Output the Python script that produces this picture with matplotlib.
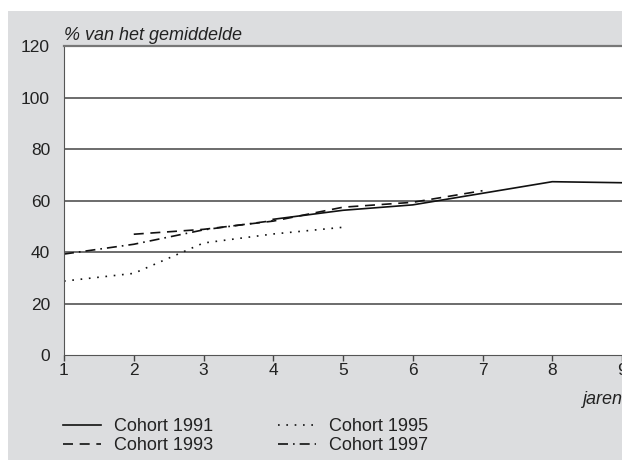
import matplotlib
matplotlib.use("Agg")
import matplotlib.pyplot as plt
from matplotlib.patches import Rectangle

plt.rcParams['font.family'] = ['Liberation Sans', 'DejaVu Sans']

# data
years_1991 = [4, 5, 6, 7, 8, 9]
vals_1991 = [52.7, 56.2, 58.3, 62.8, 67.3, 66.9]

years_1993 = [2, 3, 4, 5, 6, 7]
vals_1993 = [46.9, 48.8, 52.0, 57.4, 59.3, 63.8]

years_1995 = [1, 2, 3, 4, 5]
vals_1995 = [28.7, 31.7, 43.5, 47.0, 49.6]

years_1997 = [1, 2, 3, 4]
vals_1997 = [39.2, 43.0, 48.6, 52.2]

x_ticks = [1, 2, 3, 4, 5, 6, 7, 8, 9]
y_ticks = [0, 20, 40, 60, 80, 100, 120]

fig = plt.figure(figsize=(6.22, 4.62), dpi=100)
fig.patch.set_facecolor("white")

# grey panel behind the chart
fig.patches.append(Rectangle((8 / 622, 2 / 462), 1 - 8 / 622, (460 - 11) / 462,
                             transform=fig.transFigure, facecolor="#dcdddf",
                             edgecolor="none", zorder=-5))

ax = fig.add_axes([64 / 622, 1 - 355 / 462, 1 - 64 / 622, (355 - 46) / 462])
ax.set_facecolor("white")
ax.set_zorder(1)

lw = 1.2
ax.plot(years_1991, vals_1991, color="#111111", lw=lw, linestyle="-", label="Cohort 1991")
ax.plot(years_1993, vals_1993, color="#111111", lw=lw, linestyle=(0, (6, 4)), label="Cohort 1993")
ax.plot(years_1995, vals_1995, color="#111111", lw=lw, linestyle=(0, (1, 4)), label="Cohort 1995")
ax.plot(years_1997, vals_1997, color="#111111", lw=lw, linestyle=(0, (6, 3, 1, 3)), label="Cohort 1997")

ax.set_xlim(1, 9)
ax.set_ylim(0, 120)
ax.set_xticks(x_ticks)
ax.set_yticks(y_ticks)
ax.tick_params(axis="x", direction="out", length=4, width=1, color="#444444",
               labelsize=12.5, pad=2)
ax.tick_params(axis="y", length=0, labelsize=12.5, pad=10)
for lab in ax.get_xticklabels() + ax.get_yticklabels():
    lab.set_color("#222222")

for y in y_ticks[1:-1]:
    ax.axhline(y, color="#444444", lw=1.1, zorder=1)

ax.spines["top"].set_color("#777777")
ax.spines["top"].set_linewidth(1.6)
ax.spines["right"].set_visible(False)
ax.spines["left"].set_color("#555555")
ax.spines["bottom"].set_color("#555555")

ax.text(0.0, 1.02, "% van het gemiddelde", transform=ax.transAxes,
        ha="left", va="baseline", fontsize=13, style="italic", color="#222222")
fig.text(1.0, 1 - 400 / 462, "jaren", ha="right", va="center",
         fontsize=13, style="italic", color="#222222")

leg = fig.legend(loc="center left", bbox_to_anchor=(63 / 622, 1 - 436 / 462), ncol=2,
                 frameon=False, fontsize=13, handlelength=2.1,
                 columnspacing=3.6, labelspacing=0.12, handletextpad=0.72,
                 borderpad=0, borderaxespad=0)
for t in leg.get_texts():
    t.set_color("#222222")

fig.savefig("out.png", dpi=100)
